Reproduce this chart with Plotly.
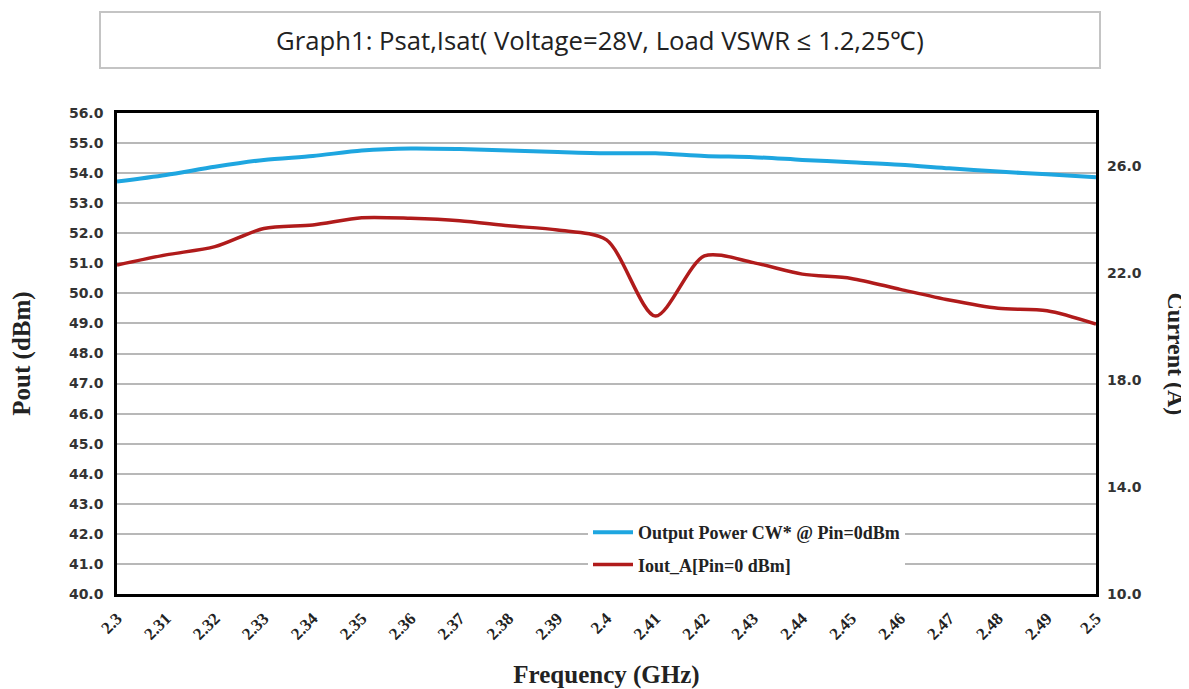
import plotly.graph_objects as go

freq = [2.30, 2.31, 2.32, 2.33, 2.34, 2.35, 2.36, 2.37, 2.38, 2.39, 2.40,
        2.41, 2.42, 2.43, 2.44, 2.45, 2.46, 2.47, 2.48, 2.49, 2.50]
freq_labels = ["2.3", "2.31", "2.32", "2.33", "2.34", "2.35", "2.36", "2.37", "2.38", "2.39", "2.4",
               "2.41", "2.42", "2.43", "2.44", "2.45", "2.46", "2.47", "2.48", "2.49", "2.5"]
pout = [53.72, 53.94, 54.21, 54.44, 54.57, 54.75, 54.82, 54.80, 54.75, 54.70, 54.66,
        54.66, 54.57, 54.53, 54.44, 54.36, 54.28, 54.16, 54.05, 53.96, 53.86]
iout = [22.31, 22.69, 23.00, 23.68, 23.81, 24.08, 24.06, 23.97, 23.78, 23.62, 23.25,
        20.40, 22.65, 22.40, 21.97, 21.81, 21.40, 21.00, 20.69, 20.60, 20.10]
left_ticks = [40 + i for i in range(17)]
right_ticks = [10, 14, 18, 22, 26]

serif = "Liberation Serif"
sans_b = "DejaVu Sans"

# page body has an 8px margin; figure sized so the plot lands where the reference has it
W, H = 1181, 681
L, R, T, B = 109, 93, 105, 95

fig = go.Figure()
fig.add_trace(go.Scatter(x=freq, y=pout, mode="lines", name="<b>Output Power CW* @ Pin=0dBm</b>",
                         legendgroup="a",
                         line=dict(color="#1ea6e0", width=4, shape="spline", smoothing=0.8)))
fig.add_trace(go.Scatter(x=freq, y=iout, mode="lines", name="<b>Iout_A[Pin=0 dBm]</b>", yaxis="y2",
                         legendgroup="b",
                         line=dict(color="#b01b1b", width=3.5, shape="spline", smoothing=0.8)))

fig.update_layout(
    width=W, height=H,
    margin=dict(l=L, r=R, t=T, b=B, autoexpand=False),
    paper_bgcolor="white", plot_bgcolor="white",
    showlegend=True,
    legend=dict(x=(588 - 117) / 979, y=(594 - 514) / 481, xanchor="left", yanchor="top", bgcolor="white",
                font=dict(family=serif, size=18, color="#222"), tracegroupgap=6,
                itemwidth=40),
    xaxis=dict(range=[2.3, 2.5], tickvals=freq, ticktext=[f"<b>{t}</b>" for t in freq_labels], tickangle=-45,
               showgrid=False, zeroline=False, showline=True, linecolor="black", linewidth=2.5,
               mirror=True, ticks="", ticklabelstandoff=5, automargin=False,
               tickfont=dict(family=serif, size=17, color="#222"),
               title=dict(text="<b>Frequency (GHz)</b>", font=dict(family=serif, size=25, color="#222"),
                          standoff=26)),
    yaxis=dict(range=[40, 56], tickvals=left_ticks,
               ticktext=[f"<b>{v:.1f}</b>" for v in left_ticks],
               showgrid=True, gridcolor="#b8b8b8", gridwidth=1.5, zeroline=False,
               showline=True, linecolor="black", linewidth=2.5, mirror=True, ticks="",
               ticklabelstandoff=8, automargin=False,
               tickfont=dict(family=sans_b, size=14, color="#333"),
               title=dict(text="<b>Pout (dBm)</b>", font=dict(family=serif, size=25, color="#222"),
                          standoff=32)),
    yaxis2=dict(range=[10, 28], overlaying="y", side="right", tickvals=right_ticks,
                ticktext=[f"<b>{v:.1f}</b>" for v in right_ticks],
                showgrid=False, zeroline=False, showline=False, ticks="",
                ticklabelstandoff=10, automargin=False,
                tickfont=dict(family=sans_b, size=14, color="#333")),
)

fig.add_annotation(text="<b>Current (A)</b>", xref="paper", yref="paper", x=1.0 + (1176 - 1096) / 979,
                   y=0.5, textangle=90, showarrow=False, xanchor="center", yanchor="middle",
                   font=dict(family=serif, size=24, color="#222"))

fig.add_annotation(text="Graph1: Psat,Isat( Voltage=28V, Load VSWR \u2264 1.2,25\u2103)",
                   xref="paper", yref="paper", x=(600 - 117) / 979, y=1 + (113 - 40) / 481,
                   showarrow=False, xanchor="center", yanchor="middle",
                   width=996, height=52, bordercolor="#c4c4c4", borderwidth=2, bgcolor="white",
                   font=dict(family="Open Sans", size=25.7, color="#222"))

fig.write_html("out.html")
